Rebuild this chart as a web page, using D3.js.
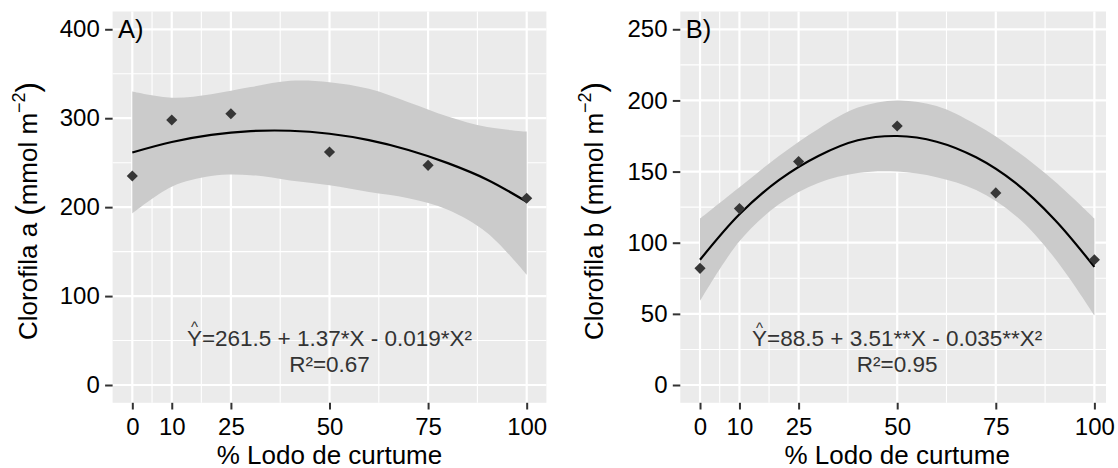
<!DOCTYPE html>
<html>
<head>
<meta charset="utf-8">
<script src="https://cdn.jsdelivr.net/npm/d3@7"></script>
<style>
  body { margin: 0; background: #fff; }
  text { font-family: "Liberation Sans", Arial, sans-serif; }
</style>
</head>
<body>
<div id="chart"></div>
<script>
// doses of tannery sludge (%)
const doses = [0, 10, 25, 50, 75, 100];
const clorofilaA = [235, 298, 305, 262, 247, 210];
const clorofilaB = [82, 124, 157, 182, 135, 88];

// fitted curve + confidence band
const fitX = [0, 10, 20, 30, 40, 50, 60, 70, 80, 90, 100];
const fitA = [261.5, 273.3, 281.3, 285.5, 285.9, 282.5, 275.3, 264.3, 249.5, 230.9, 206];
const upperA = [330, 323, 327, 335, 342, 340.5, 333, 318, 302, 290, 285];
const lowerA = [193, 223, 235, 236, 230, 224.5, 217, 210, 197, 171, 124];
const fitB = [88, 120, 144, 161, 172, 175, 171, 160, 142, 116, 83];
const upperB = [117, 139, 161, 180, 195, 200, 196, 183, 165, 143, 117];
const lowerB = [59, 101, 127, 142, 149, 150, 146, 137, 119, 89, 49];

const xTicks = [0, 10, 25, 50, 75, 100];
const xMinor = [5, 17.5, 37.5, 62.5, 87.5];
const yTicksA = [0, 100, 200, 300, 400];
const yMinorA = [50, 150, 250, 350];
const yTicksB = [0, 50, 100, 150, 200, 250];
const yMinorB = [25, 75, 125, 175, 225];

const eqA = ['Y=261.5 + 1.37*X - 0.019*X²', 'R²=0.67'];
const eqB = ['Y=88.5 + 3.51**X - 0.035**X²', 'R²=0.95'];

const W = 1118, H = 468;
const pTop = 11.5, pBottom = 402.8;

const svg = d3.select('#chart').append('svg')
  .attr('width', W)
  .attr('height', H);

svg.append('rect').attr('width', W).attr('height', H).attr('fill', '#fff');

function drawPanel (p) {
  const x = d3.scaleLinear().domain([-5, 105]).range(p.xRange);
  const y = d3.scaleLinear().domain(p.yDomain).range([pBottom, pTop]);
  const bgL = p.xRange[0], bgR = p.bgRight || p.xRange[1];
  const g = svg.append('g');

  g.append('rect')
    .attr('x', bgL).attr('y', pTop)
    .attr('width', bgR - bgL).attr('height', pBottom - pTop)
    .attr('fill', '#EBEBEB');

  // grid
  const vLines = (vals, w) => g.selectAll(null).data(vals).enter().append('line')
    .attr('x1', d => x(d)).attr('x2', d => x(d))
    .attr('y1', pTop).attr('y2', pBottom)
    .attr('stroke', '#fff').attr('stroke-width', w);
  const hLines = (vals, w) => g.selectAll(null).data(vals).enter().append('line')
    .attr('y1', d => y(d)).attr('y2', d => y(d))
    .attr('x1', bgL).attr('x2', bgR)
    .attr('stroke', '#fff').attr('stroke-width', w);
  vLines(xMinor, 1.1); hLines(p.yMinor, 1.1);
  vLines(xTicks, 2.2); hLines(p.yTicks, 2.2);

  // confidence band
  const band = d3.area()
    .x((d, i) => x(fitX[i]))
    .y0((d, i) => y(p.lower[i]))
    .y1((d, i) => y(p.upper[i]))
    .curve(d3.curveCatmullRom);
  g.append('path').datum(fitX).attr('d', band).attr('fill', '#CBCBCB');

  const line = d3.line()
    .x((d, i) => x(fitX[i]))
    .y(d => y(d))
    .curve(d3.curveCatmullRom);
  g.append('path').datum(p.fit).attr('d', line)
    .attr('fill', 'none').attr('stroke', '#000').attr('stroke-width', 2.2);

  // points (ggplot shape 18)
  g.selectAll(null).data(p.values).enter().append('path')
    .attr('d', d3.symbol(d3.symbolSquare, 62)())
    .attr('transform', (d, i) => `translate(${x(doses[i])},${y(d)}) rotate(45)`)
    .attr('fill', '#363636');

  // axes
  const ax = g.append('g').attr('transform', `translate(0,${pBottom})`)
    .call(d3.axisBottom(x).tickValues(xTicks).tickSize(6.7).tickPadding(8.5));
  const ay = g.append('g').attr('transform', `translate(${bgL},0)`)
    .call(d3.axisLeft(y).tickValues(p.yTicks).tickSize(7.5).tickPadding(5.3));
  [ax, ay].forEach(a => {
    a.select('.domain').remove();
    a.selectAll('line').attr('stroke', '#333').attr('stroke-width', 2);
    a.selectAll('text').attr('fill', '#000').style('font-size', '24px');
  });

  // panel tag
  g.append('text')
    .attr('x', x(-3.6)).attr('y', y(p.yTicks[p.yTicks.length - 1]))
    .attr('dy', '0.36em')
    .style('font-size', '25.5px')
    .text(p.tag);

  // equation
  const eqY = y(p.eqAt);
  const t1 = g.append('text')
    .attr('x', x(50)).attr('y', eqY)
    .attr('text-anchor', 'middle')
    .attr('fill', '#333')
    .style('font-size', '22.5px')
    .text(p.eq[0]);
  g.append('text')
    .attr('x', x(50)).attr('y', eqY + 25.7)
    .attr('text-anchor', 'middle')
    .attr('fill', '#333')
    .style('font-size', '22.5px')
    .text(p.eq[1]);
  const n = t1.node();
  const s = n.getStartPositionOfChar(0), e = n.getEndPositionOfChar(0);
  g.append('text')
    .attr('x', (s.x + e.x) / 2).attr('y', eqY - 13.5)
    .attr('text-anchor', 'middle')
    .attr('fill', '#333')
    .style('font-size', '15px')
    .text('^');

  // axis titles
  g.append('text')
    .attr('x', x(50)).attr('y', 464)
    .attr('text-anchor', 'middle')
    .style('font-size', '26px')
    .text('% Lodo de curtume');

  const yt = g.append('text')
    .attr('transform', `translate(${p.titleX},211) rotate(-90)`)
    .attr('text-anchor', 'middle')
    .style('font-size', '26px');
  yt.append('tspan').text(p.ylab + ' ');
  yt.append('tspan').style('font-size', '31px').attr('dy', 1).text('(');
  yt.append('tspan').attr('dy', -1).text('mmol m');
  yt.append('tspan').style('font-size', '18px').attr('dy', -12).text('\u22122');
  yt.append('tspan').style('font-size', '31px').attr('dy', 13).text(')');
}

drawPanel({
  xRange: [112.6, 546.4],
  yDomain: [-20, 420],
  yTicks: yTicksA, yMinor: yMinorA,
  values: clorofilaA, fit: fitA, upper: upperA, lower: lowerA,
  tag: 'A)', eq: eqA, eqAt: 44,
  ylab: 'Clorofila a', titleX: 37
});

drawPanel({
  xRange: [680.3, 1114.1],
  bgRight: 1106,
  yDomain: [-12.5, 262.5],
  yTicks: yTicksB, yMinor: yMinorB,
  values: clorofilaB, fit: fitB, upper: upperB, lower: lowerB,
  tag: 'B)', eq: eqB, eqAt: 27.4,
  ylab: 'Clorofila b', titleX: 603
});
</script>
</body>
</html>
